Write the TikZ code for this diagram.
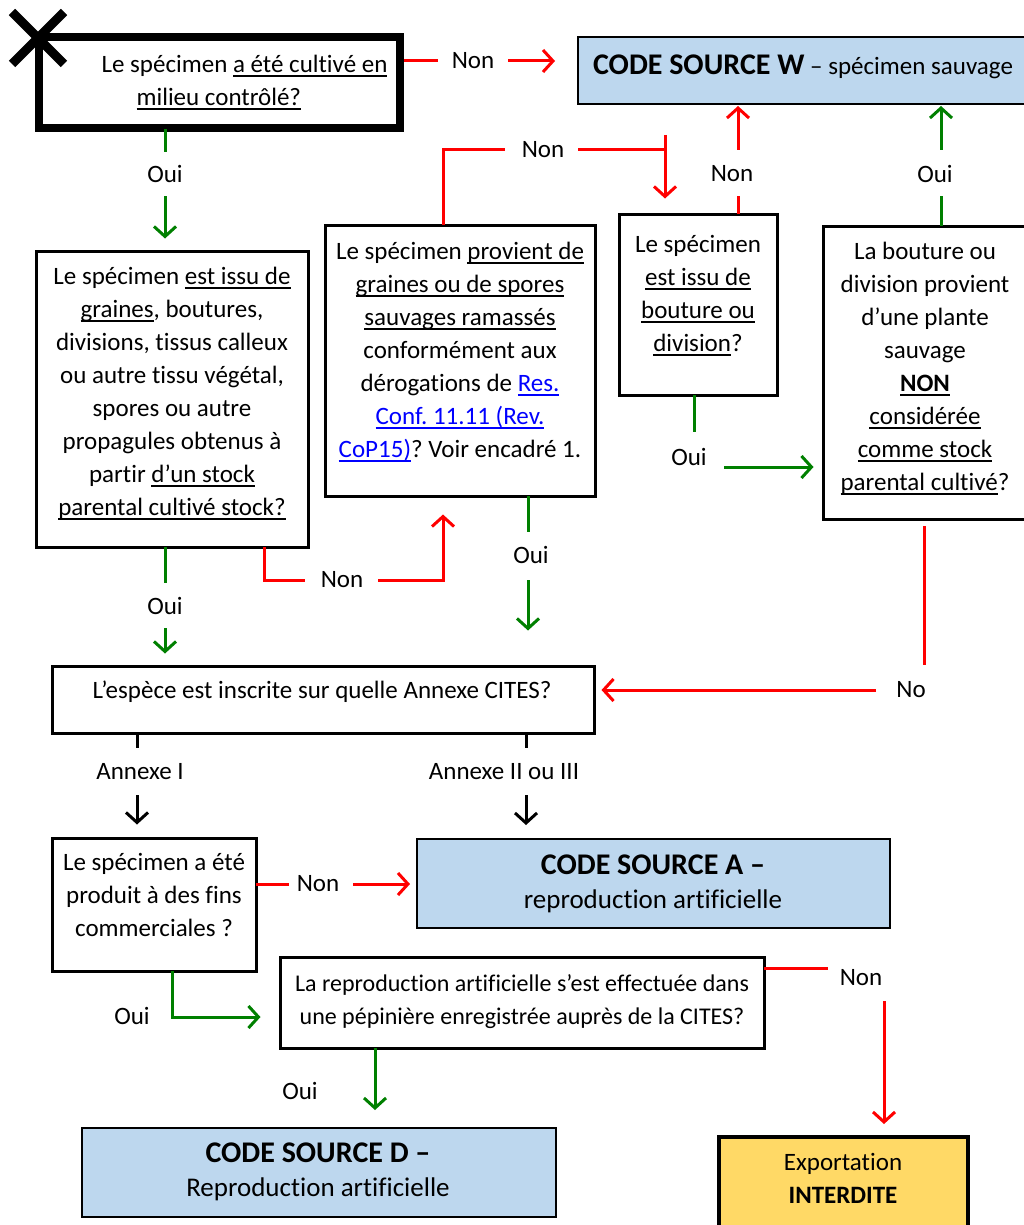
\documentclass[tikz,border=0pt]{standalone}
\usepackage{fontspec}
\setmainfont{Carlito}[Ligatures=NoCommon]
\frenchspacing
\usetikzlibrary{arrows.meta}
\definecolor{cred}{RGB}{255,0,0}
\definecolor{cgreen}{RGB}{0,128,0}
\definecolor{cblue}{RGB}{189,215,238}
\definecolor{cyell}{RGB}{255,217,102}
\definecolor{clink}{RGB}{0,0,255}
\newcommand\ul[1]{\setbox0\hbox{#1}\rlap{\rule[-4pt]{\wd0}{1.5pt}}\box0}
\newcommand\lk[1]{{\color{clink}\ul{#1}}}
\tikzset{
  bx/.style={draw, line width=3pt, inner sep=0pt, fill=white},
  bluebx/.style={draw, line width=2pt, inner sep=0pt, fill=cblue},
  tx/.style={font=\fontsize{25}{33}\selectfont, align=center, inner sep=0pt},
  lbl/.style={font=\fontsize{25}{33}\selectfont, inner sep=1pt},
  ln/.style={line width=3pt},
  ar/.style={-{Straight Barb[length=10pt,width=22pt]}, line width=3pt},
}
\begin{document}
\begin{tikzpicture}[x=1pt,y=-1pt]
\clip (0,0) rectangle (1024,1225);
\fill[white] (0,0) rectangle (1024,1225);

% boxes
\node[bx, line width=8pt, minimum width=361, minimum height=91] (top) at (219,83) {};
\node[bluebx, minimum width=452, minimum height=67] (W) at (804,70.5) {};
\node[bx, minimum width=272, minimum height=296] (issu) at (172,399) {};
\node[bx, minimum width=270, minimum height=271] (prov) at (460,360.5) {};
\node[bx, minimum width=158, minimum height=181] (bout) at (698,304.5) {};
\node[bx, minimum width=207, minimum height=293] (plante) at (926.5,372.5) {};
\node[bx, minimum width=542, minimum height=67] (annexe) at (323,699.5) {};
\node[bx, minimum width=204, minimum height=133] (comm) at (154,904.5) {};
\node[bluebx, minimum width=473, minimum height=89] (A) at (653.5,883.5) {};
\node[bx, minimum width=484, minimum height=91] (repro) at (522,1002.5) {};
\node[bluebx, minimum width=474, minimum height=89] (D) at (319,1172.5) {};
\node[bx, line width=4pt, fill=cyell, minimum width=249, minimum height=93] (inter) at (843.5,1183.5) {};

% cross
\draw[line width=9pt] (12,12) -- (64,64) (12,64) -- (64,12);

% texts
\node[tx, align=left] (ttop) at (244.5,82.5) {\strut Le spécimen \ul{a été cultivé en}\\\hspace*{35pt}\strut\ul{milieu contrôlé?}};
\node[tx] (tW) at (803,66.5) {{\fontsize{30}{33}\selectfont\bfseries CODE SOURCE W} – spécimen sauvage};
\node[tx] (tissu) at (172,393.5) {\strut Le spécimen \ul{est issu de}\\\ul{graines}, boutures,\\divisions, tissus calleux\\ou autre tissu végétal,\\spores ou autre\\propagules obtenus à\\partir \ul{d’un stock}\\\strut\ul{parental cultivé stock?}};
\node[tx] (tprov) at (460,352) {\strut Le spécimen \ul{provient de}\\\ul{graines ou de spores}\\\ul{sauvages ramassés}\\conformément aux\\dérogations de \lk{Res.}\\\lk{Conf. 11.11 (Rev.}\\\strut\lk{CoP15)}? Voir encadré 1.};
\node[tx] (tbout) at (698,295.5) {\strut Le spécimen\\\ul{est issu de}\\\ul{bouture ou}\\\strut\ul{division}?};
\node[tx] (tplante) at (925,368.5) {\strut La bouture ou\\division provient\\d’une plante\\sauvage\\\textbf{\ul{NON}}\\\ul{considérée}\\\ul{comme stock}\\\strut\ul{parental cultivé}?};
\node[tx] (tannexe) at (322,692) {\strut L’espèce est inscrite sur quelle Annexe CITES?};
\node[tx] (tcomm) at (154,897) {\strut Le spécimen a été\\produit à des fins\\\strut commerciales ?};
\node[tx, font=\fontsize{27}{34}\selectfont] (tA) at (653,885) {\strut{\fontsize{30}{34}\selectfont\bfseries CODE SOURCE A –}\\\strut reproduction artificielle};
\node[tx, font=\fontsize{24}{33}\selectfont] (trepro) at (522,1001.5) {\strut La reproduction artificielle s’est effectuée dans\\\strut une pépinière enregistrée auprès de la CITES?};
\node[tx, font=\fontsize{27}{34}\selectfont] (tD) at (318,1173) {\strut{\fontsize{30}{34}\selectfont\bfseries CODE SOURCE D –}\\\strut Reproduction artificielle};
\node[tx] (tinter) at (843,1180) {\strut Exportation\\\strut\textbf{INTERDITE}};

% labels
\node[lbl] (l1) at (473,61) {Non};
\node[lbl] (l2) at (165,174) {Oui};
\node[lbl] (l3) at (165,606) {Oui};
\node[lbl] (l4) at (342,580) {Non};
\node[lbl] (l5) at (543,150) {Non};
\node[lbl] (l6) at (531,555) {Oui};
\node[lbl] (l7) at (732,174) {Non};
\node[lbl] (l8) at (689,457) {Oui};
\node[lbl] (l9) at (935,174) {Oui};
\node[lbl] (l10) at (911,690) {No};
\node[lbl] (l11) at (140,772) {Annexe I};
\node[lbl] (l12) at (504,772) {Annexe II ou III};
\node[lbl] (l13) at (318,884) {Non};
\node[lbl] (l14) at (132,1016) {Oui};
\node[lbl] (l15) at (300,1091) {Oui};
\node[lbl] (l16) at (861,978) {Non};

% connectors
\draw[ln,cred] (top.east |- l1) -- (438,61);
\draw[ar,cred,shorten >=22pt] (508,61) -- (W.west |- l1);
\draw[ln,cgreen] (165,129) -- (165,152);
\draw[ar,cgreen,shorten >=11pt] (165,196) -- (issu.north -| l2);
\draw[ln,cgreen] (165,547) -- (165,583);
\draw[ar,cgreen,shorten >=11pt] (165,628) -- (annexe.north -| l3);
\draw[ln,cred] (264,547) -- (264,580) -- (305,580);
\coordinate (d1) at (443,580);
\draw[ar,cred,shorten >=17pt] (378,580) -- (d1) -- (prov.south -| d1);
\draw[ln,cred] (443,225) -- (443,150) -- (505,150);
\draw[ln,cred] (578,150) -- (665,150);
\coordinate (e1) at (665,135);
\draw[ar,cred,shorten >=14pt] (e1) -- (bout.north -| e1);
\draw[ln,cgreen] (528,496) -- (528,532);
\coordinate (f1) at (528,580);
\draw[ar,cgreen,shorten >=34pt] (f1) -- (annexe.north -| f1);
\draw[ln,cred] (738,214) -- (738,196);
\coordinate (g1) at (738,150);
\draw[ar,cred,shorten >=1pt] (g1) -- (W.south -| g1);
\draw[ln,cgreen] (694,395) -- (694,432);
\coordinate (h1) at (724,467);
\draw[ar,cgreen,shorten >=8pt] (h1) -- (plante.west |- h1);
\draw[ln,cgreen] (941,226) -- (941,196);
\coordinate (i1) at (941,150);
\draw[ar,cgreen,shorten >=1pt] (i1) -- (W.south -| i1);
\draw[ln,cred] (924,526) -- (924,665);
\coordinate (j1) at (876,690);
\draw[ar,cred,shorten >=6pt] (j1) -- (annexe.east |- j1);
\draw[ln] (137,733) -- (137,748);
\coordinate (k1) at (137,795);
\draw[ar,shorten >=12pt] (k1) -- (comm.north -| k1);
\draw[ln] (526,733) -- (526,748);
\coordinate (m1) at (526,795);
\draw[ar,shorten >=13pt] (m1) -- (A.north -| m1);
\draw[ln,cred] (256,884) -- (289,884);
\coordinate (n1) at (353,884);
\draw[ar,cred,shorten >=6pt] (n1) -- (A.west |- n1);
\coordinate (o1) at (172,1017);
\draw[ar,cgreen,shorten >=18pt] (172,971) -- (o1) -- (repro.west |- o1);
\coordinate (p1) at (375,1048);
\draw[ar,cgreen,shorten >=17pt] (p1) -- (D.north -| p1);
\draw[ln,cred] (764,968) -- (828,968);
\coordinate (q1) at (884,1001);
\draw[ar,cred,shorten >=11pt] (q1) -- (inter.north -| q1);
\end{tikzpicture}
\end{document}
